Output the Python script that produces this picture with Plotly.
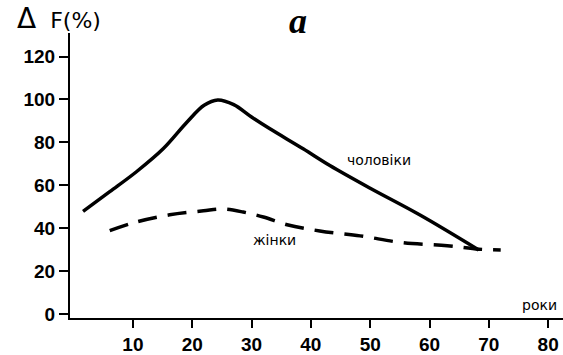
import plotly.graph_objects as go

# Data
men_age = [1.6, 6.1, 10.6, 15.1, 19.1, 22.0, 24.3, 27.0, 30.0, 33.1, 38.7, 43.2, 50.0, 58.4, 68.3]
men_val = [47.8, 57.0, 66.3, 77.0, 89.4, 97.3, 99.8, 97.6, 91.8, 86.3, 77.0, 69.2, 58.6, 46.1, 29.8]

women_age = [6.1, 10.6, 16.2, 21.9, 25.2, 28.6, 32.0, 36.0, 41.5, 48.3, 55.5, 63.0, 68.3, 72.0]
women_val = [38.8, 42.9, 46.2, 48.1, 48.9, 47.5, 45.2, 41.6, 38.7, 36.4, 33.2, 31.8, 30.2, 29.8]

x_ticks = [10, 20, 30, 40, 50, 60, 70, 80]
y_ticks = [0, 20, 40, 60, 80, 100, 120]

series_labels = ["чоловіки", "жінки"]
label_pos_x = [51.5, 33.9]
label_pos_y = [72.0, 34.7]

fig = go.Figure()
fig.add_trace(go.Scatter(x=men_age, y=men_val, mode="lines",
                         line=dict(color="black", width=3.5, shape="spline", smoothing=1.0),
                         showlegend=False, hoverinfo="skip"))
fig.add_trace(go.Scatter(x=women_age, y=women_val, mode="lines",
                         line=dict(color="black", width=3.5, dash="19px,11px", shape="spline", smoothing=1.0),
                         showlegend=False, hoverinfo="skip"))

for t, xx, yy in zip(series_labels, label_pos_x, label_pos_y):
    fig.add_annotation(x=xx, y=yy, text=t, showarrow=False,
                       font=dict(family="DejaVu Sans", size=14, color="black"))

fig.add_annotation(x=78.6, y=4, text="роки", showarrow=False,
                   font=dict(family="DejaVu Sans", size=14, color="black"))

fig.add_annotation(xref="paper", yref="paper", x=-0.1116, y=1.052, xanchor="left", yanchor="middle",
                   text="<span style='font-size:28px'>Δ</span>&nbsp;&nbsp;F(%)", showarrow=False,
                   font=dict(family="DejaVu Sans", size=22, color="black"))
fig.add_annotation(xref="paper", yref="paper", x=0.4625, y=1.042, xanchor="center", yanchor="middle",
                   text="<b><i>a</i></b>", showarrow=False,
                   font=dict(family="Liberation Serif", size=36, color="black"))

fig.update_xaxes(range=[-0.6, 82.5], tickvals=x_ticks, ticktext=[str(v) for v in x_ticks],
                 showline=True, linecolor="black", linewidth=2, ticks="outside", ticklen=8,
                 tickwidth=2, tickcolor="black", showgrid=False, zeroline=False,
                 tickfont=dict(family="Liberation Sans", size=19, color="black", weight="bold"))
fig.update_yaxes(range=[-1.9, 131], tickvals=y_ticks, ticktext=[str(v) for v in y_ticks],
                 showline=True, linecolor="black", linewidth=2, ticks="outside", ticklen=9,
                 tickwidth=2, tickcolor="black", showgrid=False, zeroline=False,
                 tickfont=dict(family="Liberation Sans", size=19, color="black", weight="bold"))

fig.update_layout(width=563, height=355, margin=dict(l=70, r=0, t=33, b=34),
                  plot_bgcolor="white", paper_bgcolor="white")

fig.write_html("out.html", config={"displayModeBar": False},
               post_script="document.body.style.margin='0px';document.body.style.overflow='hidden';")
